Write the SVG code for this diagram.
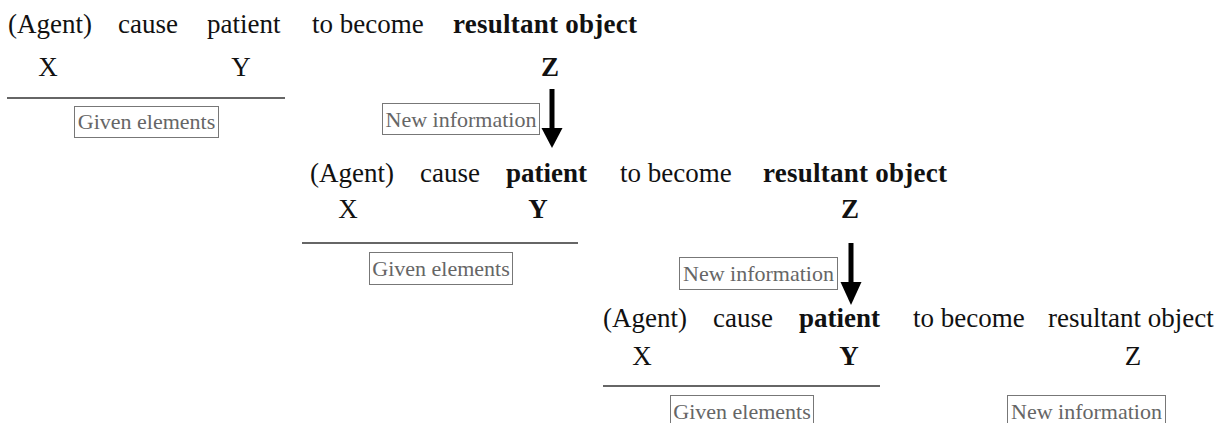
<svg xmlns="http://www.w3.org/2000/svg" width="1221" height="423" viewBox="0 0 1221 423">
<style>
text{font-family:"Liberation Serif","Times New Roman",serif;fill:#111}
.w{font-size:27px}
.b{font-weight:bold}
.v{font-size:27px;text-anchor:middle}
.lbl{font-size:22px;fill:#666;text-anchor:middle}
.box{fill:#fff;stroke:#777;stroke-width:1}
.rule{stroke:#333;stroke-width:1.6}
.shaft{stroke:#000;stroke-width:5}
.head{fill:#000}
</style>
<rect width="1221" height="423" fill="#fff"/>
<g id="row1">
<text class="w" x="8" y="33">(Agent)</text>
<text class="w" x="118" y="33">cause</text>
<text class="w" x="207" y="33">patient</text>
<text class="w" x="312" y="33">to become</text>
<text class="w b" x="453" y="33" textLength="184">resultant object</text>
<text class="v" x="48" y="76">X</text>
<text class="v" x="241" y="76">Y</text>
<text class="v b" x="550" y="76">Z</text>
<line class="rule" x1="7" y1="98" x2="285" y2="98"/>
</g>
<g id="given1"><rect class="box" x="74.5" y="106.5" width="144" height="31"/><text class="lbl" x="146.5" y="129">Given elements</text></g>
<g id="new1"><rect class="box" x="382.5" y="103.5" width="157" height="31"/><text class="lbl" x="461" y="127">New information</text></g>
<g id="row2">
<text class="w" x="310" y="182">(Agent)</text>
<text class="w" x="420" y="182">cause</text>
<text class="w b" x="506" y="182">patient</text>
<text class="w" x="620" y="182">to become</text>
<text class="w b" x="763" y="182" textLength="184">resultant object</text>
<text class="v" x="348" y="218">X</text>
<text class="v b" x="538" y="218">Y</text>
<text class="v b" x="850" y="218">Z</text>
<line class="rule" x1="302" y1="243" x2="578" y2="243"/>
</g>
<g id="given2"><rect class="box" x="369.5" y="252.5" width="143" height="32"/><text class="lbl" x="441" y="276">Given elements</text></g>
<g id="new2"><rect class="box" x="679.5" y="257.5" width="158" height="32"/><text class="lbl" x="758.5" y="281">New information</text></g>
<g id="row3">
<text class="w" x="603" y="327">(Agent)</text>
<text class="w" x="713" y="327">cause</text>
<text class="w b" x="799" y="327">patient</text>
<text class="w" x="913" y="327">to become</text>
<text class="w" x="1048" y="327">resultant object</text>
<text class="v" x="642" y="365">X</text>
<text class="v b" x="849" y="365">Y</text>
<text class="v" x="1133" y="365">Z</text>
<line class="rule" x1="603" y1="386" x2="880" y2="386"/>
</g>
<g id="given3"><rect class="box" x="670.5" y="395.5" width="143" height="34"/><text class="lbl" x="742" y="419">Given elements</text></g>
<g id="new3"><rect class="box" x="1007.5" y="395.5" width="158" height="34"/><text class="lbl" x="1086.5" y="419">New information</text></g>
<g id="connectors">
<line class="shaft" x1="552" y1="89" x2="552" y2="130"/>
<polygon class="head" points="541.5,128 562.5,128 552,148"/>
<line class="shaft" x1="851" y1="243" x2="851" y2="284"/>
<polygon class="head" points="840.5,282 861.5,282 851,305"/>
</g>
</svg>
